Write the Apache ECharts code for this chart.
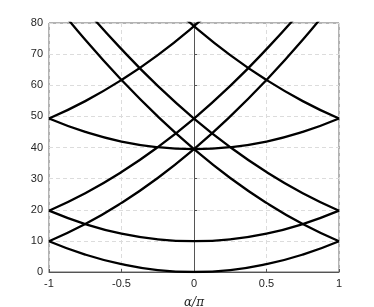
<!DOCTYPE html>
<html>
<head>
<meta charset="utf-8">
<script src="https://cdn.jsdelivr.net/npm/echarts@6/dist/echarts.min.js"></script>
<style>
  html, body { margin: 0; padding: 0; background: #fff; }
  #chart { width: 374px; height: 307px; }
</style>
</head>
<body>
<div id="chart"></div>
<script>
const alphaX = [-1, -0.75, -0.5, -0.25, 0, 0.25, 0.5, 0.75, 1];

// bowl shaped bands (symmetric about 0)
const bandA = [9.9, 5.6, 2.5, 0.6, 0.0, 0.6, 2.5, 5.6, 9.9];
const bandB = [19.7, 15.4, 12.3, 10.5, 9.9, 10.5, 12.3, 15.4, 19.7];
const bandC = [49.3, 45.0, 41.9, 40.1, 39.5, 40.1, 41.9, 45.0, 49.3];

// rising bands (left -> right), clipped at the top of the plot
const riseD = [9.9, 15.4, 22.2, 30.2, 39.5, 50.0, 61.7, 74.6, 88.8];
const riseE = [19.7, 25.3, 32.1, 40.1, 49.3, 59.8, 71.6, 84.5, 98.7];
const riseF = [49.3, 54.9, 61.7, 69.7, 79.0, 89.4, 101.2, null, null];

// falling bands (mirror images)
const fallD = [88.8, 74.6, 61.7, 50.0, 39.5, 30.2, 22.2, 15.4, 9.9];
const fallE = [98.7, 84.5, 71.6, 59.8, 49.3, 40.1, 32.1, 25.3, 19.7];
const fallF = [null, null, 101.2, 89.4, 79.0, 69.7, 61.7, 54.9, 49.3];

const xTicks = [-1, -0.5, 0, 0.5, 1];
const yTicks = [0, 10, 20, 30, 40, 50, 60, 70, 80];

const allBands = [bandA, bandB, bandC, riseD, riseE, riseF, fallD, fallE, fallF];

function pairs(vals) {
    const out = [];
    vals.forEach((v, i) => {
        if (v !== null) out.push([alphaX[i], v]);
    });
    return out;
}

const chart = echarts.init(document.getElementById('chart'), null, {renderer: 'canvas'});

const series = allBands.map(b => ({
    type: 'line',
    data: pairs(b),
    smooth: true,
    symbol: 'none',
    clip: true,
    lineStyle: {color: '#000', width: 2.3},
    animation: false
}));

chart.setOption({
    animation: false,
    backgroundColor: '#fff',
    grid: {
        left: 49, right: 35, top: 23, bottom: 35,
        outerBoundsMode: 'none',
        containLabel: false,
        show: true, borderColor: '#666', borderWidth: 1, backgroundColor: 'transparent'
    },
    xAxis: {
        type: 'value',
        min: xTicks[0],
        max: xTicks[xTicks.length - 1],
        interval: 0.5,
        name: 'α/π',
        nameLocation: 'middle',
        nameGap: 25,
        nameTextStyle: {fontFamily: 'DejaVu Serif', fontStyle: 'italic', fontSize: 12, color: '#262626'},
        axisLine: {lineStyle: {color: '#555', width: 1}},
        axisTick: {inside: true, length: 3, lineStyle: {color: '#555'}},
        axisLabel: {color: '#262626', fontSize: 11, fontFamily: 'Liberation Sans', margin: 6,
            formatter: v => String(v)},
        splitLine: {show: true, lineStyle: {color: '#dcdcdc', type: [4, 3], width: 1}}
    },
    yAxis: {
        type: 'value',
        min: yTicks[0],
        max: yTicks[yTicks.length - 1],
        interval: 10,
        axisLine: {show: true, lineStyle: {color: '#555', width: 1}},
        axisTick: {show: true, inside: true, length: 3, lineStyle: {color: '#555'}},
        axisLabel: {color: '#262626', fontSize: 11, fontFamily: 'Liberation Sans', margin: 6},
        splitLine: {show: true, lineStyle: {color: '#dcdcdc', type: [4, 3], width: 1}}
    },
    series: series
});
</script>
</body>
</html>
